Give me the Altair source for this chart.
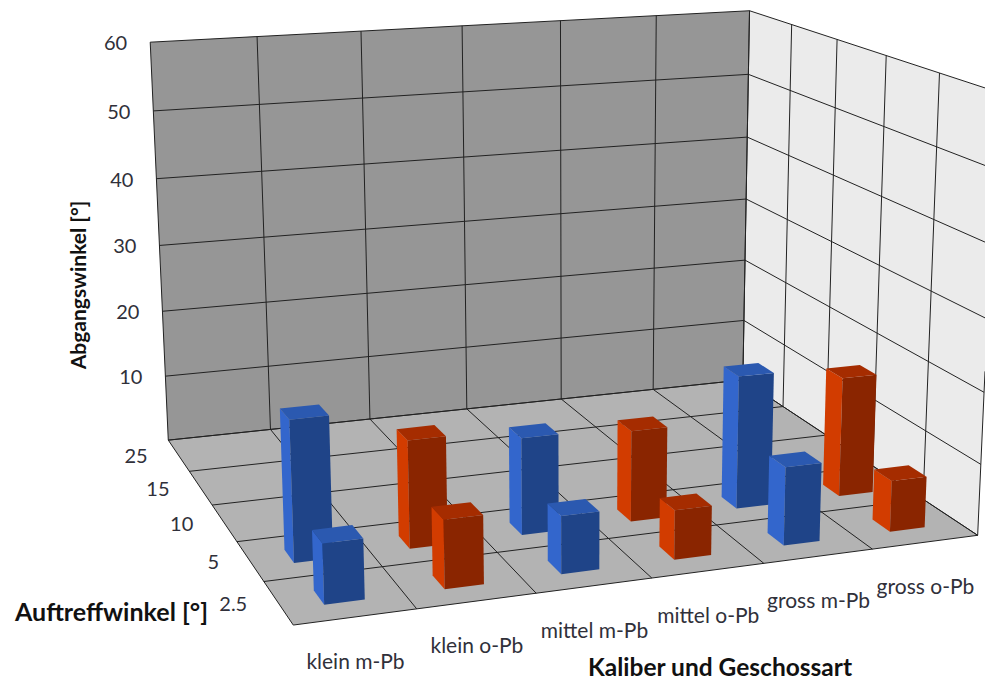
import altair as alt
import numpy as np
import pandas as pd

# ---- chart values -------------------------------------------------------
categories = ["klein m-Pb", "klein o-Pb", "mittel m-Pb", "mittel o-Pb", "gross m-Pb", "gross o-Pb"]
depth_labels = ["2.5", "5", "10", "15", "25"]
z_ticks = [10, 20, 30, 40, 50, 60]
series = ["blue", "red", "blue", "red", "blue", "red"]
values_at_5 = [19.5, 15.0, 13.6, 12.9, 19.0, 17.2]
values_at_2_5 = [8.1, 9.3, 7.9, 6.8, 10.9, 7.2]

# ---- camera: least-squares fit of a projective map from the chart box ---
cal_model = [
    (0,5,6),(6,5,6),(0,5,0),(6,5,0),(0,0,0),(6,0,0),(6,0,6),
    (1,5,0),(2,5,0),(3,5,0),(4,5,0),(5,5,0),
    (1,0,0),(2,0,0),(3,0,0),(4,0,0),(5,0,0),
    (0,4,0),(0,3,0),(0,2,0),(0,1,0),
    (1,5,6),(2,5,6),(0,5,5),(0,5,4),(6,5,5),(6,5,4),(6,5,3),
    (6,4,6),(6,3,6),(6,2,6),(6,1,6),
]
cal_screen = [
    (150,42),(749.5,11),(167.7,440),(743.3,380),(292.7,626),(978.3,535),(998,91),
    (269.3,430),(369.3,418.3),(466.7,408),(561,399.3),(652.7,389.3),
    (416,609.3),(535,591.7),(651.7,578.3),(763.3,562.7),(872.7,549.3),
    (190,470.7),(213.3,505.7),(239.3,542.3),(264,582.3),
    (257.3,36),(360.7,31),(153.3,110.7),(156.7,178.7),(749.3,74.7),(748.3,137.3),(746,199.3),
    (790.7,25),(836.7,39.3),(886,56),(939.3,73.3),
]
A, b = [], []
for (X, Y, Z), (u, v) in zip(cal_model, cal_screen):
    A.append([X, Y, Z, 1, 0, 0, 0, 0, -u*X, -u*Y, -u*Z]); b.append(u)
    A.append([0, 0, 0, 0, X, Y, Z, 1, -v*X, -v*Y, -v*Z]); b.append(v)
P = np.append(np.linalg.lstsq(np.array(A, float), np.array(b, float), rcond=None)[0], 1.0).reshape(3, 4)

def proj(X, Y, Z):
    h = P @ np.array([X, Y, Z, 1.0])
    return [float(h[0] / h[2]), float(h[1] / h[2])]

W, H = 977, 672
OFF = 8

def pg(points, color):
    return {"type": "Feature", "properties": {"fill": color},
            "geometry": {"type": "Polygon", "coordinates": [[*points, points[0]]]}}

def ln(a, b):
    return {"type": "Feature", "properties": {},
            "geometry": {"type": "LineString", "coordinates": [a, b]}}

# ---- walls and floor ----------------------------------------------------
walls = [
    pg([proj(0,5,0), proj(6,5,0), proj(6,5,6), proj(0,5,6)], "#969696"),
    pg([proj(6,5,0), proj(6,0,0), proj(6,0,6), proj(6,5,6)], "#ebebeb"),
    pg([proj(0,0,0), proj(6,0,0), proj(6,5,0), proj(0,5,0)], "#b3b3b3"),
]
grid = []
for z in range(0, 7):
    grid += [ln(proj(0,5,z), proj(6,5,z)), ln(proj(6,5,z), proj(6,0,z))]
for x in range(0, 7):
    grid += [ln(proj(x,5,0), proj(x,5,6)), ln(proj(x,0,0), proj(x,5,0))]
for d in range(0, 6):
    grid += [ln(proj(0,d,0), proj(6,d,0)), ln(proj(6,d,0), proj(6,d,6))]

# ---- bars ---------------------------------------------------------------
colors = {"blue": ("#3366cc", "#1f4488", "#2b59b0"), "red": ("#d23c00", "#8a2500", "#a52c00")}
LO, HI = 1/3, 2/3

def bar(cat, depth, value, kind):
    left, front, top = colors[kind]
    z = value / 10
    x0, x1, y0, y1 = cat + LO, cat + HI, depth + LO, depth + HI
    return [
        pg([proj(x0,y0,0), proj(x0,y1,0), proj(x0,y1,z), proj(x0,y0,z)], left),
        pg([proj(x0,y0,0), proj(x1,y0,0), proj(x1,y0,z), proj(x0,y0,z)], front),
        pg([proj(x0,y0,z), proj(x1,y0,z), proj(x1,y1,z), proj(x0,y1,z)], top),
    ]

bars = []
for i, v in enumerate(values_at_5):
    bars += bar(i, 1, v, series[i])
for i, v in enumerate(values_at_2_5):
    bars += bar(i, 0, v, series[i])

projection = alt.Projection(type="identity", scale=1, translate=[-OFF, -OFF],
                            clipExtent=[[0, 0], [W, H]])

def shapes(features):
    return alt.Data(values={"type": "FeatureCollection", "features": features},
                    format=alt.DataFormat(type="json", property="features"))

wall_layer = alt.Chart(shapes(walls)).mark_geoshape(stroke=None).encode(
    fill=alt.Fill("properties.fill:N", scale=None)).project(**projection.to_dict())
grid_layer = alt.Chart(shapes(grid)).mark_geoshape(filled=False, stroke="#222222", strokeWidth=1).project(**projection.to_dict())
bar_layer = alt.Chart(shapes(bars)).mark_geoshape(stroke=None).encode(
    fill=alt.Fill("properties.fill:N", scale=None)).project(**projection.to_dict())

# ---- text ---------------------------------------------------------------
FONT = "Lato"
TXT = "#30303a"

def text_layer(rows, **kw):
    df = pd.DataFrame(rows, columns=["label", "px", "py"])
    df["px"] -= OFF
    df["py"] -= OFF
    return alt.Chart(df).mark_text(font=FONT, **kw).encode(
        x=alt.X("px:Q", scale=None, axis=None),
        y=alt.Y("py:Q", scale=None, axis=None),
        text="label:N")

z_rows = []
for t in z_ticks:
    p = proj(0, 5, t / 10)
    z_rows.append((str(t), p[0] - 23, p[1] + 2))
d_rows = []
for i, t in enumerate(depth_labels):
    p = proj(0, i + 0.5, 0)
    d_rows.append((t, p[0] - 31, p[1] + 2))
c_rows = []
for i, t in enumerate(categories):
    p = proj(i + 0.5, 0, 0)
    c_rows.append((t, p[0], p[1] + 46))

z_text = text_layer(z_rows, fontSize=20, align="right", baseline="middle", color=TXT)
d_text = text_layer(d_rows, fontSize=20, align="right", baseline="middle", color=TXT)
c_text = text_layer(c_rows, fontSize=21, align="center", baseline="middle", color=TXT)
t1 = text_layer([("Abgangswinkel [°]", 80, 285)], fontSize=21, fontWeight="bold", angle=270,
                align="center", baseline="middle", color="#111111")
t2 = text_layer([("Auftreffwinkel [°]", 15, 613)], fontSize=25, fontWeight="bold",
                align="left", baseline="middle", color="#111111")
t3 = text_layer([("Kaliber und Geschossart", 720, 669)], fontSize=24.5, fontWeight="bold",
                align="center", baseline="middle", color="#111111")

chart = alt.layer(wall_layer, grid_layer, bar_layer, z_text, d_text, c_text, t1, t2, t3).properties(
    width=W, height=H, padding=0, background="white",
    autosize=alt.AutoSizeParams(type="none")
).configure_view(stroke=None)

chart.save("out.html", embed_options={"renderer": "svg", "actions": False})
